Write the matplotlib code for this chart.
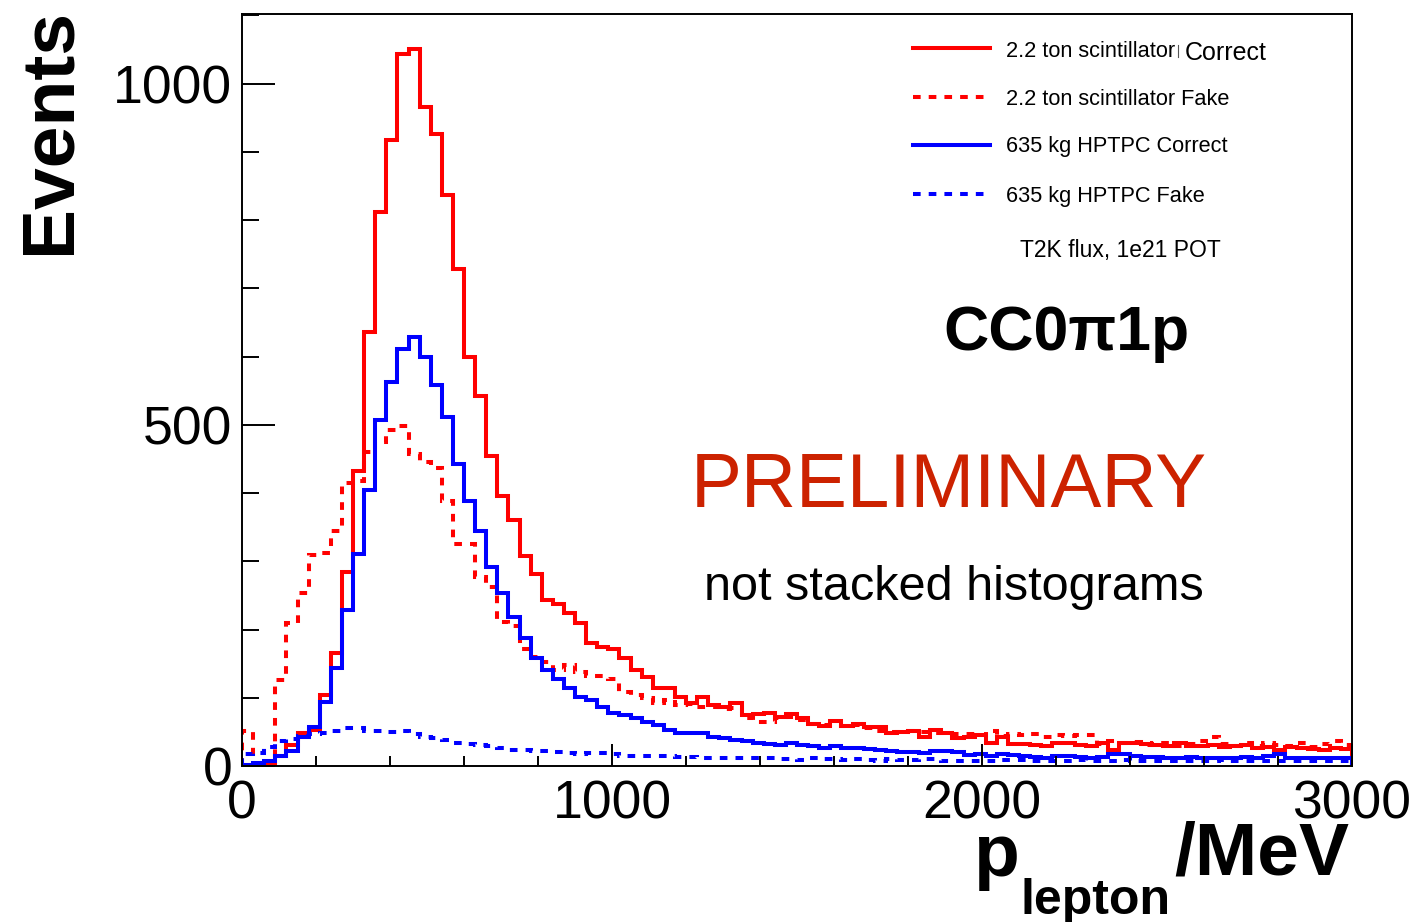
import numpy as np
import matplotlib
matplotlib.use("Agg")
import matplotlib.pyplot as plt
from matplotlib.lines import Line2D
from matplotlib.ticker import MultipleLocator, FixedLocator

plt.rcParams['font.family'] = ['Liberation Sans', 'DejaVu Sans']

# Lepton momentum binning: 100 bins of 30 MeV from 0 to 3000 MeV
bin_edges = np.arange(0, 3001, 30)

# Events per bin, 2.2 ton scintillator, correctly identified
scint_correct = [
    1, 2, 3, 14, 31, 48, 53, 104, 165, 284,
    433, 636, 812, 918, 1044, 1051, 966, 926, 837, 728,
    599, 542, 454, 395, 361, 308, 281, 243, 238, 224,
    210, 180, 175, 172, 158, 140, 130, 114, 114, 101,
    93, 101, 89, 87, 93, 75, 76, 78, 72, 76,
    70, 62, 59, 66, 58, 62, 57, 57, 49, 50,
    51, 43, 53, 48, 41, 42, 45, 34, 43, 32,
    32, 31, 29, 34, 34, 31, 29, 33, 24, 34,
    33, 32, 31, 30, 33, 30, 29, 31, 28, 30,
    31, 27, 28, 24, 28, 27, 25, 23, 27, 25,
]

# Events per bin, 2.2 ton scintillator, fake
scint_fake = [
    52, 2, 2, 126, 209, 253, 309, 312, 345, 414,
    418, 460, 475, 492, 498, 457, 445, 436, 389, 325,
    325, 277, 262, 211, 205, 172, 160, 152, 140, 148,
    138, 132, 132, 127, 109, 104, 100, 93, 97, 89,
    91, 87, 87, 83, 85, 70, 65, 65, 70, 72,
    68, 62, 60, 62, 58, 60, 56, 52, 50, 50,
    51, 50, 49, 48, 47, 47, 46, 51, 44, 47,
    45, 47, 43, 45, 44, 46, 45, 32, 36, 33,
    35, 31, 34, 33, 30, 32, 36, 43, 32, 30,
    34, 29, 33, 31, 30, 33, 28, 32, 37, 31,
]

# Events per bin, 635 kg HPTPC, correctly identified
hptpc_correct = [
    1, 4, 8, 14, 22, 42, 57, 94, 143, 228,
    310, 404, 507, 562, 611, 629, 599, 559, 511, 442,
    389, 345, 292, 254, 219, 188, 158, 140, 128, 114,
    101, 97, 87, 77, 75, 70, 65, 60, 53, 48,
    48, 49, 43, 41, 38, 36, 33, 32, 31, 33,
    31, 30, 26, 29, 27, 26, 25, 23, 22, 21,
    20, 19, 22, 22, 21, 16, 18, 14, 17, 16,
    14, 13, 11, 14, 14, 13, 11, 13, 17, 17,
    14, 13, 13, 12, 12, 13, 12, 12, 11, 12,
    13, 12, 14, 17, 12, 11, 11, 12, 11, 12,
]

# Events per bin, 635 kg HPTPC, fake
hptpc_fake = [
    18, 19, 28, 36, 40, 44, 47, 48, 52, 55,
    55, 52, 52, 50, 51, 47, 43, 41, 38, 34,
    32, 31, 29, 27, 23, 24, 22, 22, 20, 19,
    18, 19, 19, 18, 14, 14, 14, 14, 14, 13,
    13, 12, 12, 12, 12, 11, 11, 11, 10, 10,
    9, 11, 10, 10, 9, 10, 9, 8, 10, 9,
    9, 10, 10, 8, 8, 7, 8, 8, 9, 9,
    9, 8, 7, 7, 8, 9, 8, 7, 8, 9,
    7, 8, 7, 8, 8, 7, 7, 8, 9, 8,
    7, 8, 7, 8, 8, 7, 7, 8, 7, 7,
]

series_labels = [
    "2.2 ton scintillator Fake",
    "635 kg HPTPC Correct",
    "635 kg HPTPC Fake",
]

W, H = 1422, 922
fig = plt.figure(figsize=(W / 100, H / 100), dpi=100)
fig.patch.set_facecolor('white')


def px(x, y):
    """Pixel position (from top-left) to figure fraction."""
    return x / W, 1 - y / H


ax = fig.add_axes([242 / W, 1 - 766 / H, 1110 / W, 752 / H])

RED = '#ff0000'
BLUE = '#0000ff'
LW = 2.9
DASH = (0, (1.9, 2.0))

ax.stairs(scint_correct, bin_edges, color=RED, lw=LW)
ax.stairs(scint_fake, bin_edges, color=RED, lw=LW, linestyle=DASH)
ax.stairs(hptpc_correct, bin_edges, color=BLUE, lw=LW)
ax.stairs(hptpc_fake, bin_edges, color=BLUE, lw=LW, linestyle=DASH)

ax.set_xlim(0, 3000)
ax.set_ylim(0, 1102)

ax.xaxis.set_major_locator(FixedLocator([0, 1000, 2000, 3000]))
ax.xaxis.set_minor_locator(MultipleLocator(200))
ax.yaxis.set_major_locator(FixedLocator([0, 500, 1000]))
ax.yaxis.set_minor_locator(MultipleLocator(100))
ax.tick_params(axis='both', which='both', direction='in', width=1.4,
               top=False, right=False, labelsize=38.5)
ax.tick_params(axis='y', which='major', length=23.8, pad=7)
ax.tick_params(axis='y', which='minor', length=12.2)
ax.tick_params(axis='x', which='major', length=15.8, pad=9.5)
ax.tick_params(axis='x', which='minor', length=7.2)
for s in ax.spines.values():
    s.set_linewidth(1.4)

# Axis titles
fig.text(*px(70, 8), 'Events', rotation=90, rotation_mode='anchor',
         ha='right', va='baseline', fontsize=54, fontweight='bold')
fig.text(*px(973, 876), 'p', ha='left', va='baseline',
         fontsize=54, fontweight='bold')
fig.text(*px(1021, 914), 'lepton', ha='left', va='baseline',
         fontsize=36, fontweight='bold')
fig.text(*px(1349, 874), '/MeV', ha='right', va='baseline',
         fontsize=54, fontweight='bold')

# Legend
legend_rows = [
    (48, RED, '-'),
    (97, RED, DASH),
    (145, BLUE, '-'),
    (194, BLUE, DASH),
]
for y, c, ls in legend_rows:
    fig.add_artist(Line2D([913 / W, 990 / W], [1 - y / H] * 2,
                          transform=fig.transFigure, color=c, lw=LW,
                          linestyle=ls))

fig.text(*px(1006, 57), '2.2 ton scintillator', ha='left', va='baseline',
         fontsize=15.7)
fig.add_artist(Line2D([1178 / W, 1178 / W], [1 - 45 / H, 1 - 57 / H],
                      transform=fig.transFigure, color='#555555', lw=0.8))
fig.text(*px(1185, 60), 'Correct', ha='left', va='baseline', fontsize=18)
for (y_base, label) in zip([105, 152, 202], series_labels):
    fig.text(*px(1006, y_base), label, ha='left', va='baseline',
             fontsize=15.7)
fig.text(*px(1120, 257), 'T2K flux, 1e21 POT', ha='center', va='baseline',
         fontsize=16.5)

# Annotations
fig.text(*px(1067, 350), 'CC0π1p', ha='center', va='baseline',
         fontsize=45, fontweight='bold')
fig.text(*px(949, 507), 'PRELIMINARY', ha='center', va='baseline',
         fontsize=55, color='#cc2200')
fig.text(*px(954, 600), 'not stacked histograms', ha='center',
         va='baseline', fontsize=35)

fig.savefig('out.png', dpi=100)
